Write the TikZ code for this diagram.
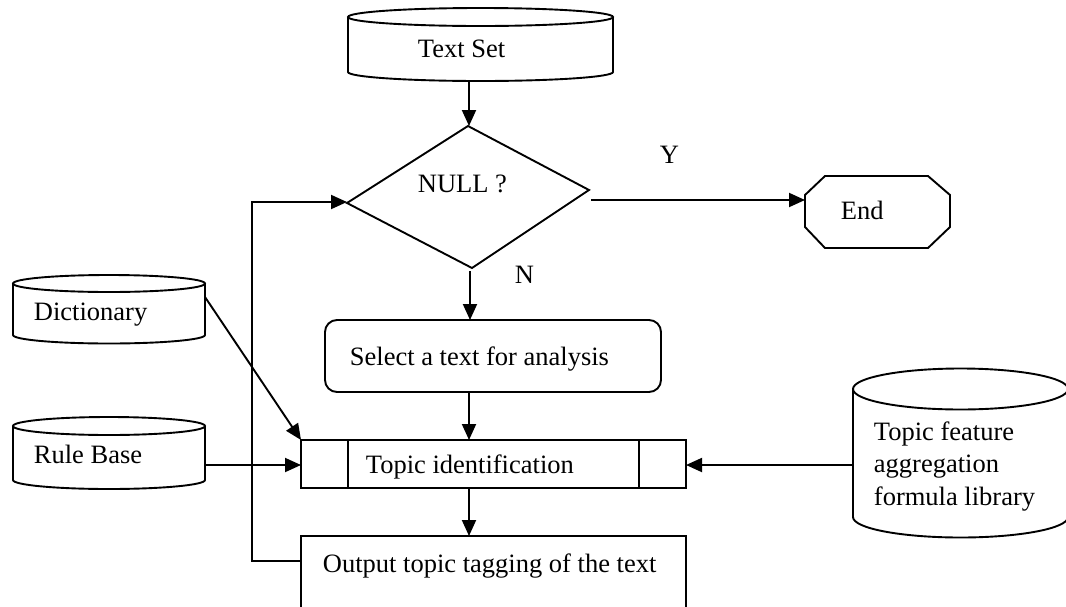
\documentclass[tikz,border=0pt]{standalone}
\usepackage{fontspec}
\setmainfont{Liberation Serif}
\usetikzlibrary{arrows.meta}
\newcommand\mycyl[5]{% left, right, top ellipse centre y, side end y, y radius
  \draw (#1,#3) -- (#1,#4) arc[start angle=180,end angle=0,x radius={(#2-#1)/2},y radius=#5] -- (#2,#3);
  \draw ({(#1+#2)/2},#3) ellipse[x radius={(#2-#1)/2},y radius=#5];}
\begin{document}
\begin{tikzpicture}[x=1pt,y=-1pt,line width=1.9pt,
  every node/.style={font=\fontsize{26.5}{32}\selectfont,inner sep=0pt},
  lbl/.style={anchor=base west},
  arr/.style={-{Triangle[length=16pt,width=14pt]}}]
\clip (0,0) rectangle (1066,606);
\fill[white] (0,0) rectangle (1066,606);

% storage cylinders
\mycyl{348}{613}{17}{72}{9}
\mycyl{13}{205}{283.5}{335}{8.5}
\mycyl{13}{205}{426}{480}{9}
\mycyl{853}{1068}{389}{517}{20.5}

% decision
\draw (468,126) -- (589,190) -- (472,268) -- (347,203) -- cycle;

% end octagon
\draw (825,176) -- (928,176) -- (950,195) -- (950,227) -- (928,248) -- (825,248) -- (805,227) -- (805,195) -- cycle;

% process boxes
\node[draw,line width=1.9pt,rounded corners=12pt,minimum width=336pt,minimum height=72pt] (select) at (493,356) {};
\node[draw,line width=1.9pt,minimum width=385pt,minimum height=48pt] (topic) at (493.5,464) {};
\draw (348,440) -- (348,488);
\draw (639,440) -- (639,488);
\draw (301,612) -- (301,536) -- (686,536) -- (686,612);

% texts
\node[lbl] (textset) at (417,57) {Text Set};
\node[lbl] (null) at (417,192) {NULL ?};
\node[lbl] (endn) at (840,219) {End};
\node[lbl] (ylab) at (659,163) {Y};
\node[lbl] (nlab) at (514,283) {N};
\node[lbl] (seltext) at (349,365) {Select a text for analysis};
\node[lbl] (toptext) at (365,473) {Topic identification};
\node[lbl] (outtext) at (322,572) {Output topic tagging of the text};
\node[lbl] (dict) at (33,320) {Dictionary};
\node[lbl] (rule) at (33,463) {Rule Base};
\node[lbl] (lib1) at (873,440) {Topic feature};
\node[lbl] (lib2) at (873,472) {aggregation};
\node[lbl] (lib3) at (873,505) {formula library};

% connection points
\coordinate (ts-s) at (469,81);
\coordinate (d-n) at (469,126);
\coordinate (d-w) at (347,202);
\coordinate (d-e) at (591,200);
\coordinate (d-s) at (470,271);
\coordinate (end-w) at (805,200);
\coordinate (sel-n) at (470,320);
\coordinate (sel-s) at (469,392);
\coordinate (top-n) at (469,440);
\coordinate (top-nw) at (301,440);
\coordinate (top-w) at (301,465);
\coordinate (top-e) at (686,465);
\coordinate (top-s) at (469,488);
\coordinate (out-n) at (469,536);
\coordinate (out-w) at (301,561);
\coordinate (dict-e) at (205,297);
\coordinate (rule-e) at (205,465);
\coordinate (lib-w) at (853,465);

% connectors
\draw[arr] (ts-s) -- (d-n);
\draw[arr] (d-e) -- (end-w);
\draw[arr] (d-s) -- (sel-n);
\draw[arr] (sel-s) -- (top-n);
\draw[arr] (top-s) -- (out-n);
\draw[arr] (dict-e) -- (top-nw);
\draw[arr] (rule-e) -- (top-w);
\draw[arr] (lib-w) -- (top-e);
\draw[arr] (out-w) -- ++(-49,0) |- (d-w);
\end{tikzpicture}
\end{document}
